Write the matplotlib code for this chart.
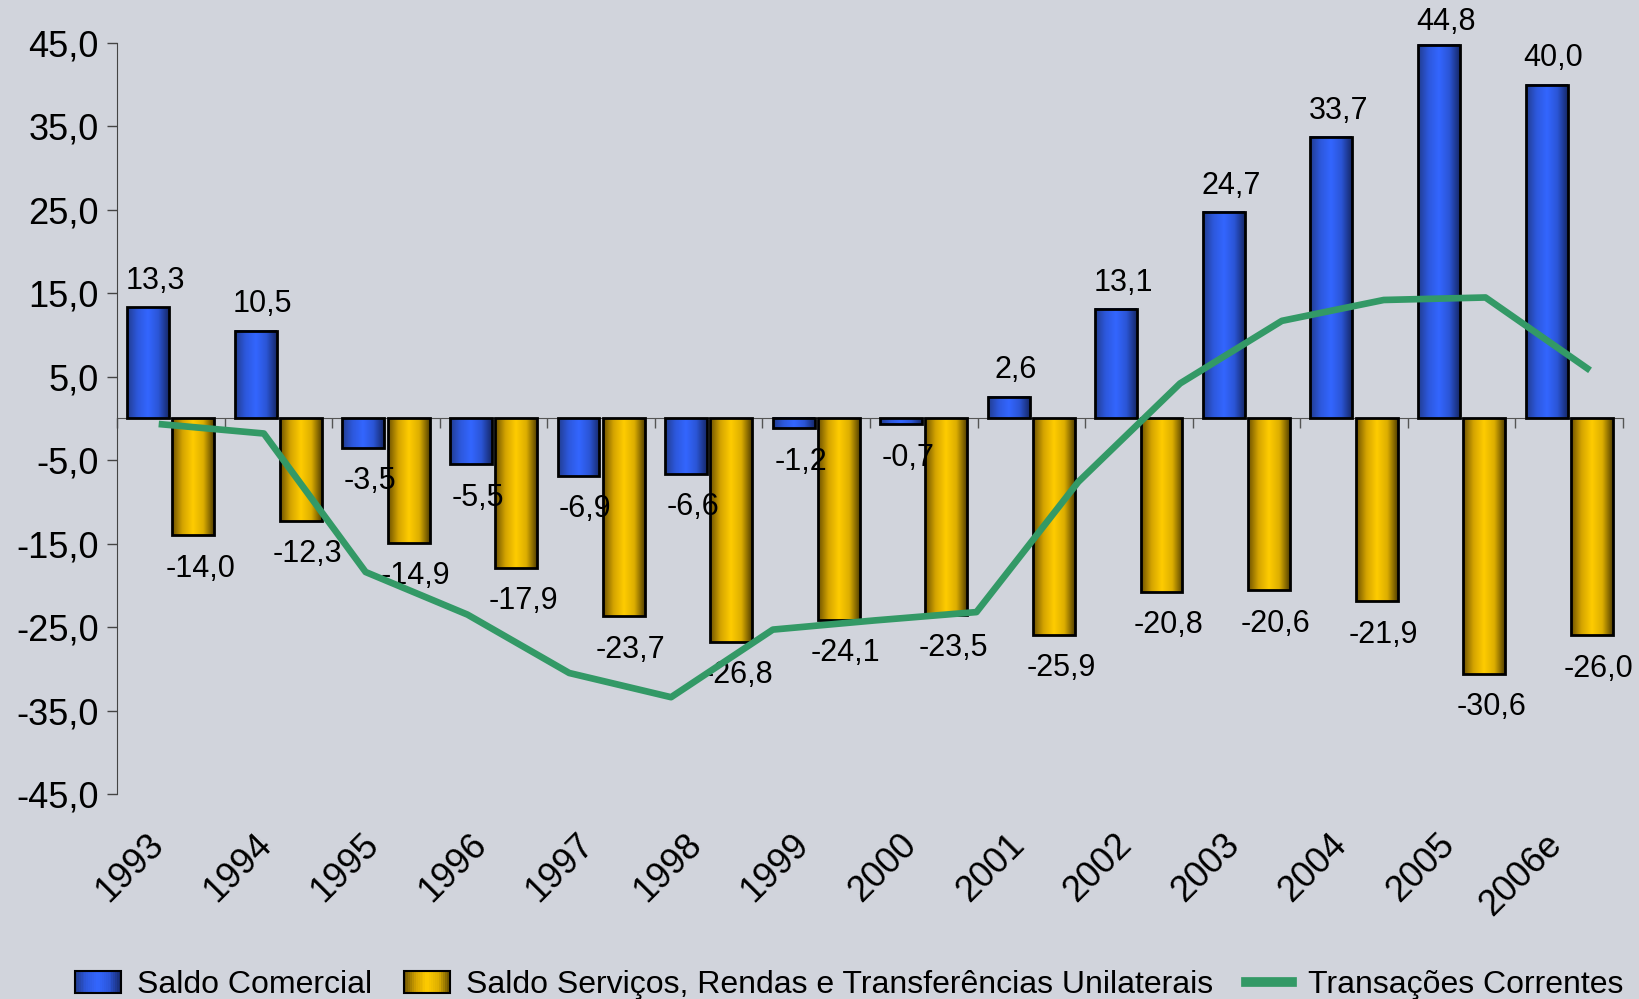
import numpy as np
import matplotlib
matplotlib.use("Agg")
import matplotlib.pyplot as plt
from matplotlib.colors import LinearSegmentedColormap
from matplotlib.patches import Rectangle
from matplotlib.lines import Line2D
from matplotlib.legend_handler import HandlerBase

plt.rcParams['font.family'] = ['Liberation Sans', 'DejaVu Sans']

anos = ["1993", "1994", "1995", "1996", "1997", "1998", "1999",
        "2000", "2001", "2002", "2003", "2004", "2005", "2006e"]
saldo_comercial = [13.3, 10.5, -3.5, -5.5, -6.9, -6.6, -1.2, -0.7, 2.6, 13.1, 24.7, 33.7, 44.8, 40.0]
saldo_servicos = [-14.0, -12.3, -14.9, -17.9, -23.7, -26.8, -24.1, -23.5, -25.9, -20.8, -20.6, -21.9, -30.6, -26.0]
# linha tem 15 pontos, em eixo proprio
transacoes = [-0.7, -1.8, -18.4, -23.5, -30.5, -33.4, -25.3, -24.2, -23.2, -7.6, 4.2, 11.7, 14.2, 14.5, 6.0]
yticks = np.arange(-45, 46, 10)

nomes = ["Saldo Comercial",
         "Saldo Serviços, Rendas e Transferências Unilaterais",
         "Transações Correntes"]

fundo = '#d1d4dc'
verde = '#339966'
azul = LinearSegmentedColormap.from_list(
    'azul', ['#213c8f', '#2d58dc', '#3366ff', '#2b55d6', '#162868'])
amarelo = LinearSegmentedColormap.from_list(
    'amarelo', ['#6b5000', '#d4a400', '#ffcc00', '#dcae00', '#544000'])


def fmt(v):
    return f"{v:.1f}".replace('.', ',')


fig = plt.figure(figsize=(16.39, 9.99), dpi=100, facecolor=fundo)
ax = fig.add_axes([0.0714, 0.2052, 0.9188, 0.7518], facecolor=fundo)
ax.set_xlim(-0.5, len(anos) - 0.5)
ax.set_ylim(-45, 45)

x = np.arange(len(anos))
w = 0.39
grad = np.linspace(0, 1, 256).reshape(1, -1)


def barras(xs, vals, cmap):
    bars = ax.bar(xs, vals, w, facecolor='none', edgecolor='black',
                  linewidth=2, zorder=3)
    for b in bars:
        x0 = b.get_x()
        y0, y1 = sorted([b.get_y(), b.get_y() + b.get_height()])
        ax.imshow(grad, cmap=cmap, extent=[x0, x0 + b.get_width(), y0, y1],
                  aspect='auto', zorder=2, interpolation='bicubic')
    for b, v in zip(bars, vals):
        cx = b.get_x() + b.get_width() / 2
        if v >= 0:
            # rotulo nao pode sair da figura
            topo = ax.transData.transform((cx, v))[1] * 72 / fig.dpi
            lim = fig.get_figheight() * 72 - 16
            dy = min(19, lim - topo)
        else:
            dy = -24
        ax.annotate(fmt(v), (cx, v), xytext=(5, dy), textcoords='offset points',
                    ha='center', va='center', fontsize=22, zorder=4,
                    annotation_clip=False)
    return bars


barras(x - 0.21, saldo_comercial, azul)
barras(x + 0.21, saldo_servicos, amarelo)

ax.set_xlim(-0.5, len(anos) - 0.5)
ax.set_ylim(-45, 45)
ax.set_yticks(yticks)
ax.set_yticklabels([fmt(v) for v in yticks], fontsize=26)
ax.set_xticks(x)
ax.set_xticklabels(anos, rotation=45, ha='right', fontsize=26)
ax.tick_params(axis='x', length=0, pad=24)
ax.tick_params(axis='y', length=7, width=1, color='#444444', pad=6)
for s in ['top', 'right', 'bottom']:
    ax.spines[s].set_visible(False)
ax.spines['left'].set_color('#444444')

# eixo das categorias na linha do zero
sec = ax.secondary_xaxis(0, transform=ax.transData)
sec.set_xticks(np.arange(-0.5, len(anos), 1))
sec.tick_params(axis='x', length=7, width=1, color='#555555', labelbottom=False, labeltop=False)
for s in sec.spines.values():
    s.set_color('#555555')

ax2 = ax.twiny()
ax2.plot(np.arange(len(transacoes)), transacoes, color=verde, lw=4.8)
ax2.set_xlim(-0.442, 14.35)
ax2.axis('off')


class Gradiente(HandlerBase):
    def __init__(self, cmap):
        super().__init__()
        self.cmap = cmap

    def create_artists(self, legend, orig_handle, xd, yd, width, height, fontsize, trans):
        n = 24
        arts = []
        for k in range(n):
            arts.append(Rectangle((-xd + k * width / n, -yd), width / n, height,
                                  facecolor=self.cmap((k + 0.5) / n), edgecolor='none',
                                  transform=trans))
        arts.append(Rectangle((-xd, -yd), width, height, fill=False,
                              edgecolor='black', lw=1.5, transform=trans))
        return arts


h1 = Rectangle((0, 0), 1, 1)
h2 = Rectangle((0, 0), 1, 1)
h3 = Line2D([], [], color=verde, lw=7)
fig.legend([h1, h2, h3], nomes, handler_map={h1: Gradiente(azul), h2: Gradiente(amarelo)},
           loc='center', bbox_to_anchor=(0.518, 0.014), ncol=3, frameon=False,
           fontsize=23, handlelength=1.45, handleheight=0.7, handletextpad=0.5,
           columnspacing=1.0, borderaxespad=0, borderpad=0)

fig.savefig("out.png", dpi=100, facecolor=fundo)
